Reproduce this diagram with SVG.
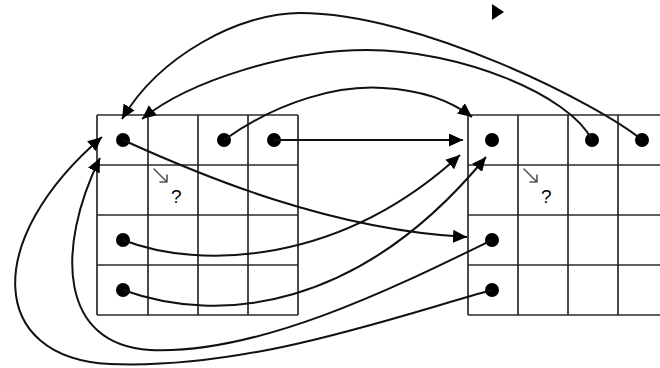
<svg xmlns="http://www.w3.org/2000/svg" width="660" height="368" viewBox="0 0 660 368">
<style>
.grid line{stroke:#2a2a2a;stroke-width:1.7;}
.dot{fill:#000;}
.conn path{fill:none;stroke:#111;stroke-width:2;marker-end:url(#ah);}
.q{font-family:"Liberation Sans",Arial,sans-serif;font-size:19px;fill:#000;}
.sa{fill:none;stroke:#555;stroke-width:1.6;stroke-linecap:round;stroke-linejoin:round;}
</style>
<defs>
<marker id="ah" markerUnits="userSpaceOnUse" markerWidth="15" markerHeight="13" refX="14" refY="6.5" orient="auto" viewBox="0 0 15 13">
<path d="M0,0 L14,6.5 L0,13 z" fill="#000"/>
</marker>
</defs>
<rect width="660" height="368" fill="#fff"/>
<g id="left-grid" class="grid">
<line x1="97" y1="115" x2="97" y2="315"/>
<line x1="148" y1="115" x2="148" y2="315"/>
<line x1="198" y1="115" x2="198" y2="315"/>
<line x1="248" y1="115" x2="248" y2="315"/>
<line x1="298" y1="115" x2="298" y2="315"/>
<line x1="97" y1="115" x2="298" y2="115"/>
<line x1="97" y1="165" x2="298" y2="165"/>
<line x1="97" y1="215" x2="298" y2="215"/>
<line x1="97" y1="265" x2="298" y2="265"/>
<line x1="97" y1="315" x2="298" y2="315"/>
</g>
<g id="right-grid" class="grid">
<line x1="468" y1="115" x2="468" y2="315"/>
<line x1="518" y1="115" x2="518" y2="315"/>
<line x1="568" y1="115" x2="568" y2="315"/>
<line x1="618" y1="115" x2="618" y2="315"/>
<line x1="468" y1="115" x2="660" y2="115"/>
<line x1="468" y1="165" x2="660" y2="165"/>
<line x1="468" y1="215" x2="660" y2="215"/>
<line x1="468" y1="265" x2="660" y2="265"/>
<line x1="468" y1="315" x2="660" y2="315"/>
</g>
<g id="left-dots">
<circle class="dot" cx="123" cy="140" r="7"/>
<circle class="dot" cx="224" cy="140" r="7"/>
<circle class="dot" cx="274" cy="140" r="7"/>
<circle class="dot" cx="123" cy="240" r="7"/>
<circle class="dot" cx="123" cy="290" r="7"/>
</g>
<g id="right-dots">
<circle class="dot" cx="492" cy="140" r="7"/>
<circle class="dot" cx="592" cy="140" r="7"/>
<circle class="dot" cx="642" cy="140" r="7"/>
<circle class="dot" cx="492" cy="240" r="7"/>
<circle class="dot" cx="492" cy="290" r="7"/>
</g>
<g id="left-label">
<path class="sa" d="M154,169 L167,182 M167,175 L167,182 L160,182"/>
<text class="q" x="171" y="203">?</text>
</g>
<g id="right-label">
<path class="sa" d="M524,169 L537,182 M537,175 L537,182 L530,182"/>
<text class="q" x="541" y="203">?</text>
</g>
<g id="connectors" class="conn">
<path d="M642,140 C600,105 420,13 300,13 C240,13 160,55 122,119"/>
<path d="M592,140 C570,95 460,50 367,50 C290,50 190,80 142,119"/>
<path d="M224,140 C280,100 340,85 383,88 C420,90 450,100 472,117"/>
<path d="M274,140 L463,140"/>
<path d="M123,140 C200,175 330,230 467,237"/>
<path d="M123,240 C200,270 340,265 460,155"/>
<path d="M123,290 C220,325 360,310 486,157"/>
<path d="M492,240 C400,285 260,355 150,350 C60,345 55,250 100,158"/>
<path d="M492,290 C400,315 250,370 110,364 C-12,358 -18,240 102,137"/>
<polygon points="492,4 504,12 492,20" fill="#000" stroke="none"/>
</g>
</svg>
